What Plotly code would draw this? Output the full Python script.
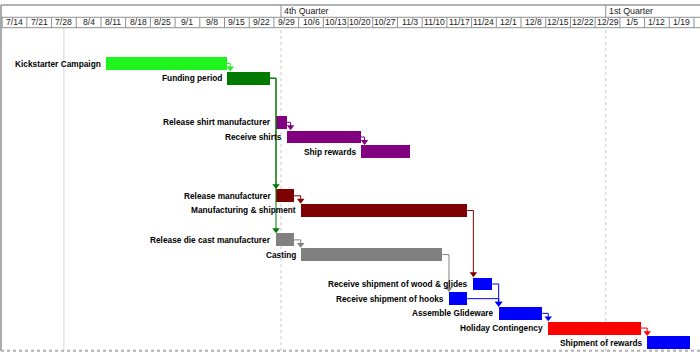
import plotly.graph_objects as go
import pandas as pd

# ---------------- data ----------------
task_names = [
    "Kickstarter Campaign", "Funding period",
    "Release shirt manufacturer", "Receive shirts", "Ship rewards",
    "Release manufacturer", "Manufacturing & shipment",
    "Release die cast manufacturer", "Casting",
    "Receive shipment of wood & glides", "Receive shipment of hooks",
    "Assemble Glideware", "Holiday Contingency", "Shipment of rewards",
]
task_rows = [0, 1, 4, 5, 6, 9, 10, 12, 13, 15, 16, 17, 18, 19]
task_starts = [
    "2014-08-12 08:00", "2014-09-15 15:00",
    "2014-09-29 14:00", "2014-10-02 17:00", "2014-10-23 16:00",
    "2014-09-29 14:00", "2014-10-06 14:00",
    "2014-09-29 14:00", "2014-10-06 14:00",
    "2014-11-24 12:00", "2014-11-17 14:00",
    "2014-12-01 16:00", "2014-12-15 17:00", "2015-01-12 18:00",
]
task_ends = [
    "2014-09-15 15:00", "2014-09-27 21:00",
    "2014-10-02 17:00", "2014-10-23 16:00", "2014-11-06 13:00",
    "2014-10-04 16:00", "2014-11-22 19:00",
    "2014-10-04 16:00", "2014-11-15 17:00",
    "2014-11-29 21:00", "2014-11-22 19:00",
    "2014-12-14 00:00", "2015-01-11 00:00", "2015-01-24 21:00",
]
task_colors = [
    "#1ef51e", "#007a00",
    "#800080", "#800080", "#800080",
    "#7f0000", "#7f0000",
    "#808080", "#808080",
    "#0000ff", "#0000ff",
    "#0000ff", "#ff0000", "#0000ff",
]
# dependencies: (predecessor index, successor index)
link_pred = [0, 1, 1, 2, 3, 5, 6, 7, 8, 9, 10, 11, 12]
link_succ = [1, 5, 7, 3, 4, 6, 9, 8, 10, 11, 11, 12, 13]

week_labels = ["7/14", "7/21", "7/28", "8/4", "8/11", "8/18", "8/25", "9/1", "9/8",
               "9/15", "9/22", "9/29", "10/6", "10/13", "10/20", "10/27", "11/3",
               "11/10", "11/17", "11/24", "12/1", "12/8", "12/15", "12/22", "12/29",
               "1/5", "1/12", "1/19", "1/26"]
quarter_labels = ["4th Quarter", "1st Quarter"]
quarter_starts = ["2014-10-01", "2015-01-01"]
marker_line_date = "2014-07-31 12:00"

# ---------------- derived ----------------
starts = pd.to_datetime(task_starts)
ends = pd.to_datetime(task_ends)
durations_ms = [(e - s).total_seconds() * 1000 for s, e in zip(starts, ends)]


def label_date(lbl):
    m, d = (int(v) for v in lbl.split("/"))
    year = 2014 if m >= 7 else 2015
    return pd.Timestamp(year=year, month=m, day=d)


week_starts = [label_date(l) for l in week_labels]

X0 = "2014-07-13 16:20"
X1 = "2015-01-27 16:50"
Y_TOP, Y_BOT = -3.98, 19.56
BAR_H = 0.88

# header geometry (paper coords)
H_TOP = 1.0
H_MID = 0.9645
H_BOT = 0.9344
LINE_C = "#8f8f8f"
FONT = "Liberation Sans, Arial, sans-serif"

fig = go.Figure()

fig.add_trace(go.Bar(
    orientation="h",
    y=task_rows,
    x=durations_ms,
    base=[s.strftime("%Y-%m-%d %H:%M") for s in starts],
    width=BAR_H,
    marker=dict(color=task_colors, line=dict(width=0)),
    hoverinfo="skip",
    showlegend=False,
))

# dependency connectors
day = pd.Timedelta(days=1)
for p, s in zip(link_pred, link_succ):
    vx = max(starts[s], ends[p] + day)
    top = task_rows[s] - BAR_H / 2
    col = task_colors[p]
    fig.add_trace(go.Scatter(
        x=[ends[p], vx, vx], y=[task_rows[p], task_rows[p], top - 0.2],
        mode="lines", line=dict(color=col, width=1),
        hoverinfo="skip", showlegend=False,
    ))
    fig.add_trace(go.Scatter(
        x=[vx], y=[top - 0.24], mode="markers",
        marker=dict(symbol="triangle-down", size=6.5, color=col, line=dict(width=0)),
        hoverinfo="skip", showlegend=False, cliponaxis=False,
    ))

shapes = []
# header lines
for yy, c in [(H_TOP, "#666666"), (H_MID, LINE_C), (H_BOT, LINE_C)]:
    shapes.append(dict(type="line", xref="paper", yref="paper", x0=0, x1=1, y0=yy, y1=yy,
                       line=dict(color=c, width=1)))
shapes.append(dict(type="line", xref="paper", yref="paper", x0=0, x1=0, y0=0, y1=1,
                   line=dict(color=LINE_C, width=1.5)))
for ws in week_starts:
    shapes.append(dict(type="line", xref="x", yref="paper", x0=ws, x1=ws, y0=H_BOT, y1=H_MID,
                       line=dict(color=LINE_C, width=1)))
for qs in quarter_starts:
    shapes.append(dict(type="line", xref="x", yref="paper", x0=qs, x1=qs, y0=H_MID, y1=H_TOP,
                       line=dict(color=LINE_C, width=1)))
    shapes.append(dict(type="line", xref="x", yref="paper", x0=qs, x1=qs, y0=0, y1=H_BOT,
                       line=dict(color="#c8c8c8", width=1, dash="dot"), layer="below"))
shapes.append(dict(type="line", xref="x", yref="paper", x0=marker_line_date, x1=marker_line_date,
                   y0=0, y1=H_BOT, line=dict(color="#d4d4d4", width=1), layer="below"))
shapes.append(dict(type="line", xref="paper", yref="paper", x0=0, x1=1, y0=0.001, y1=0.001,
                   line=dict(color="#b0b0b0", width=2, dash="dot")))

annotations = []
for ws, lbl in zip(week_starts, week_labels):
    annotations.append(dict(x=ws + pd.Timedelta(days=3.5), y=(H_BOT + H_MID) / 2,
                            xref="x", yref="paper", text=lbl, showarrow=False,
                            xanchor="center", yanchor="middle",
                            font=dict(family=FONT, size=8.6, color="#222222")))
for qs, lbl in zip(quarter_starts, quarter_labels):
    annotations.append(dict(x=qs, y=(H_MID + H_TOP) / 2, xref="x", yref="paper", text=lbl,
                            showarrow=False, xanchor="left", yanchor="middle", xshift=1,
                            font=dict(family=FONT, size=8.8, color="#222222")))
for name, r, s in zip(task_names, task_rows, starts):
    annotations.append(dict(x=s, y=r, xref="x", yref="y", text="<b>" + name + "</b>",
                            showarrow=False, xanchor="right", yanchor="middle", xshift=-3,
                            font=dict(family=FONT, size=8.3, color="#000000")))

fig.update_layout(
    width=700, height=360,
    margin=dict(l=1, r=0, t=5, b=9, pad=0),
    paper_bgcolor="white", plot_bgcolor="white",
    xaxis=dict(type="date", range=[X0, X1], showticklabels=False, showgrid=False,
               zeroline=False, showline=False, fixedrange=True),
    yaxis=dict(range=[Y_BOT, Y_TOP], showticklabels=False, showgrid=False,
               zeroline=False, showline=False, fixedrange=True),
    shapes=shapes, annotations=annotations,
    bargap=0, showlegend=False,
)

fig.write_html("out.html", config={"displayModeBar": False},
               post_script="document.body.style.margin='0';document.body.style.padding='0';")
